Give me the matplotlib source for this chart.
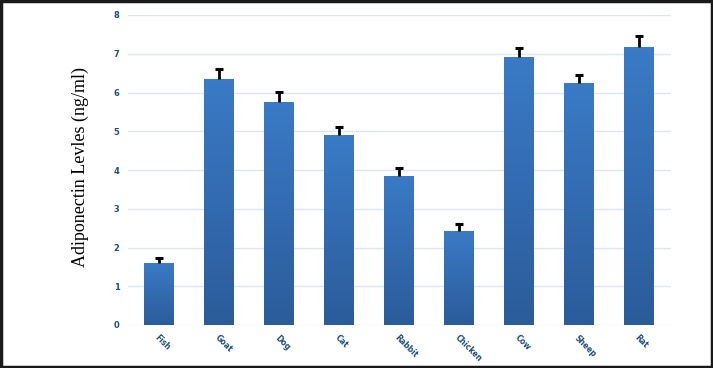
import matplotlib
matplotlib.use("Agg")
import matplotlib.pyplot as plt
import numpy as np
from matplotlib.colors import LinearSegmentedColormap

categories = ["Fish", "Goat", "Dog", "Cat", "Rabbit", "Chicken", "Cow", "Sheep", "Rat"]
values = [1.59, 6.35, 5.76, 4.90, 3.85, 2.42, 6.91, 6.25, 7.17]
errors = [0.13, 0.26, 0.26, 0.21, 0.19, 0.18, 0.25, 0.20, 0.29]
yticks = [0, 1, 2, 3, 4, 5, 6, 7, 8]

fig = plt.figure(figsize=(7.13, 3.68), dpi=100)
ax = fig.add_axes([128/713, 1-325/368, (671-128)/713, (325-15)/368])

x = np.arange(len(categories))
bars = ax.bar(x, values, width=0.5, color="#3672BA", zorder=2)
cmap = LinearSegmentedColormap.from_list("g", ["#2B5C9A", "#3A7AC6"])
grad = np.linspace(0, 1, 256).reshape(-1, 1)
for b in bars:
    x0, y0 = b.get_x(), b.get_y()
    w, h = b.get_width(), b.get_height()
    im = ax.imshow(grad, cmap=cmap, origin="lower", aspect="auto",
                   extent=[x0, x0 + w, y0, y0 + h], zorder=2.5)
    im.set_clip_path(b)

tops = np.array(values) + np.array(errors)
ax.vlines(x, values, tops, color="black", linewidth=2, zorder=3)
ax.plot(x, tops, linestyle="none", marker="_", markersize=6, markeredgewidth=2.2,
        color="black", zorder=3)

ax.set_xlim(-0.52, 8.53)
ax.set_ylim(0, 8)
ax.set_yticks(yticks)
ax.yaxis.grid(True, color="#DCE6F2", linewidth=1, zorder=0)
ax.set_axisbelow(True)
for s in ax.spines.values():
    s.set_visible(False)
ax.tick_params(axis="both", length=0, pad=6)
ax.set_yticklabels([str(t) for t in yticks], fontsize=6, color="#1F4E79",
                   fontweight="bold")
ax.set_xticks(x)
ax.set_xticklabels(categories, rotation=-45, ha="left", rotation_mode="anchor",
                   fontsize=5.5, color="#1F4E79", fontweight="bold")
ax.tick_params(axis="x", pad=6)
ax.set_ylabel("Adiponectin Levles (ng/ml)", family="Liberation Serif",
              fontsize=13, color="black")
ax.yaxis.set_label_coords(-0.071, 0.51)

fig.add_artist(plt.Rectangle((0.001, 0.002), 0.997, 0.995, transform=fig.transFigure,
                             fill=False, edgecolor="#1a1a1a", linewidth=2.5))
fig.savefig("out.png", dpi=100)
